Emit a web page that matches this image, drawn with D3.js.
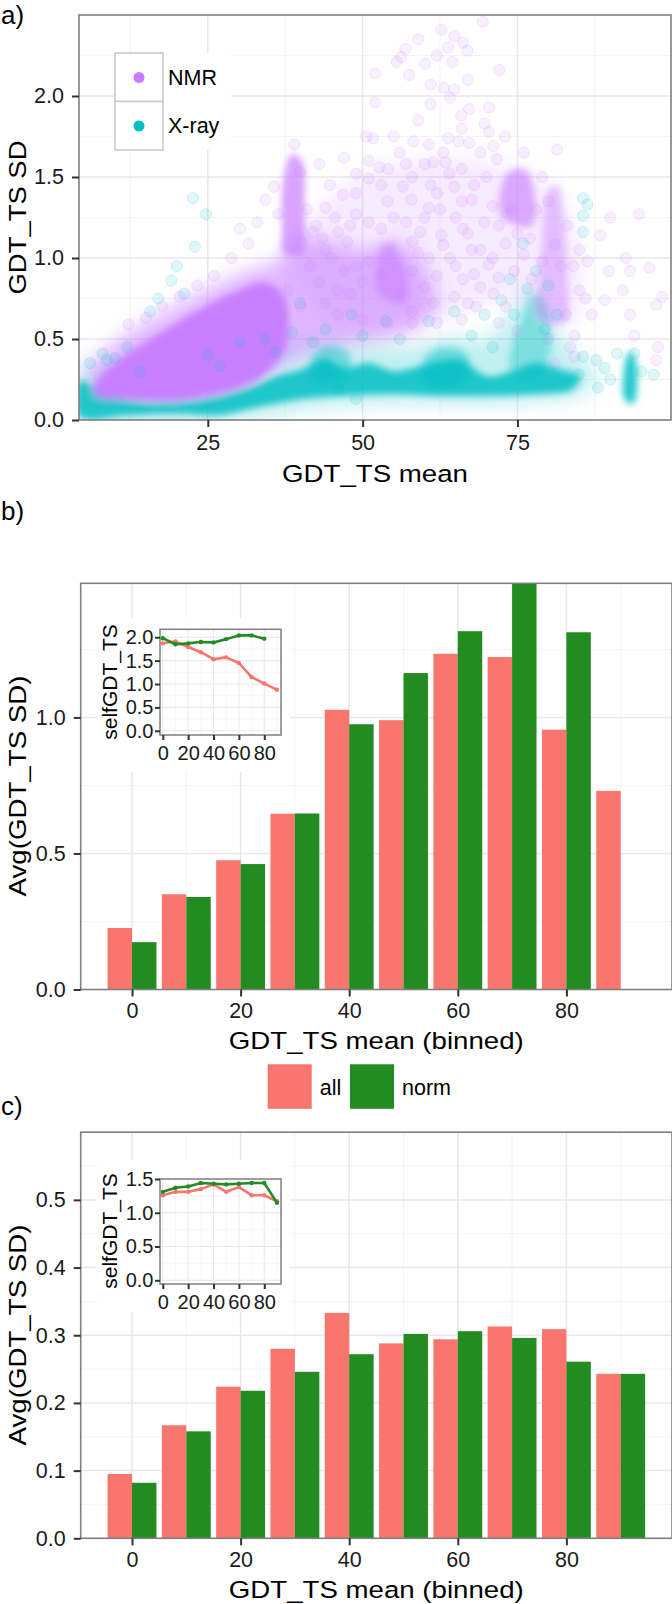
<!DOCTYPE html>
<html><head><meta charset="utf-8">
<script src="https://cdn.jsdelivr.net/npm/d3@7"></script>
<style>body{margin:0;background:#fff}</style>
</head><body><svg id="c" width="672" height="1604" xmlns="http://www.w3.org/2000/svg"></svg>
<script>
// ---------------- DATA ----------------
const seriesNames = ["all", "norm"];
const scatterGroups = ["NMR", "X-ray"];

// panel a: dense regions (outlines, data units)
const xrayCloud = [[4.3,0.0],[30,0.0],[45,0.08],[60,0.1],[75,0.1],[86,0.17],[88,0.3],[84,0.42],[81,0.6],[79,0.78],[76,0.8],[73,0.62],[70,0.5],[64,0.52],[58,0.47],[52,0.5],[46,0.5],[40,0.48],[35,0.42],[30,0.32],[25,0.26],[15,0.24],[8,0.33],[4.3,0.36]];
const xrayCore = [[4.3,0.02],[12,0.03],[20,0.04],[27,0.03],[33,0.08],[40,0.13],[47,0.15],[55,0.16],[62,0.15],[70,0.15],[78,0.16],[84,0.19],[85,0.27],[82,0.31],[78,0.35],[74,0.3],[70,0.27],[66,0.37],[62,0.36],[58,0.32],[55,0.3],[51,0.35],[47,0.32],[44,0.38],[40,0.31],[36,0.27],[33,0.22],[30,0.18],[26,0.14],[20,0.11],[14,0.11],[10,0.14],[7,0.2],[4.3,0.24]];
const xrayPatch45 = [[42,0.25],[47,0.26],[48,0.4],[45,0.46],[42,0.4]];
const xrayPatch63 = [[60,0.22],[66,0.22],[67,0.4],[63,0.45],[60,0.38]];
const xrayStreak78 = [[74,0.3],[79,0.3],[80.5,0.5],[79.5,0.72],[77.5,0.78],[75.5,0.6],[74,0.45]];
const xray93 = [[92.3,0.13],[93.7,0.1],[94.3,0.2],[94.0,0.38],[93.0,0.42],[92.2,0.3]];
const nmrHaze = [[38,1.0],[44,1.35],[52,1.55],[62,1.62],[72,1.58],[80,1.45],[85,1.1],[84,0.6],[75,0.75],[65,0.65],[55,0.55],[45,0.6]];
const nmrCloud = [[6,0.2],[12,0.12],[30,0.18],[37,0.35],[45,0.45],[52,0.5],[58,0.55],[62,0.7],[60,0.95],[56,1.1],[50,1.05],[45,1.1],[40,1.12],[36,0.98],[30,0.9],[22,0.75],[15,0.6],[9,0.45],[6,0.32]];
const nmrCore = [[7,0.15],[12,0.13],[19,0.12],[25,0.15],[30,0.2],[34,0.28],[37,0.4],[38,0.6],[37,0.78],[34,0.85],[30,0.8],[25,0.71],[20,0.6],[15,0.48],[11,0.38],[8,0.28],[6.5,0.2]];
const nmrStreak39 = [[37.3,1.03],[40.3,1.03],[40.6,1.3],[40.2,1.6],[38.5,1.64],[37.1,1.45],[37.0,1.2]];
const nmrStreak55 = [[52.5,0.78],[57,0.72],[57.3,0.85],[56,1.0],[54.5,1.1],[52.8,1.05],[52.2,0.9]];
const nmrStreak75 = [[72.5,1.25],[77.3,1.2],[77.7,1.4],[76.5,1.54],[74,1.54],[72.5,1.45]];
const nmrStreak81 = [[78.5,0.62],[82.8,0.6],[83,0.9],[82.5,1.2],[81.5,1.45],[80,1.42],[79,1.1],[78.3,0.85]];

// panel a: individual sparse points (GDT_TS mean, GDT_TS SD)
const nmrPoints = [[69.4,2.46],[62.7,2.41],[64.8,2.37],[66.2,2.33],[66.9,2.28],[63.8,2.30],[56.9,2.29],[55.5,2.21],[56.2,2.24],[60.1,2.20],[64.5,2.21],[72.1,2.16],[57.5,2.13],[61.0,2.07],[63.1,2.05],[64.8,2.04],[52.0,2.14],[52.0,1.96],[64.1,1.99],[65.9,1.88],[67.2,1.92],[70.4,1.93],[69.7,1.83],[70.4,1.78],[63.8,1.74],[65.5,1.72],[67.2,1.71],[69.0,1.65],[71.1,1.69],[58.2,1.72],[60.7,1.70],[63.4,1.59],[61.4,1.59],[51.7,1.74],[50.6,1.75],[52.7,1.56],[71.7,1.61],[81.4,1.67],[94.6,1.27],[96.3,0.94],[93.2,0.92],[98.4,0.76],[97.4,0.71],[97.7,0.45],[92.5,1.00],[93.2,0.65],[93.9,0.52],[97.4,0.37],[88.4,1.14],[89.8,0.92],[89.1,0.74],[86.3,0.98],[87.0,0.65],[84.2,0.39],[84.2,0.52],
[44.7,1.45],[46.8,1.39],[48.9,1.40],[44.0,1.31],[48.9,1.27],[51.0,1.22],[46.1,1.16],[42.0,1.16],[44.0,1.05],[51.0,1.60],[51.0,1.49],[54.1,1.55],[56.5,1.44],[57.9,1.36],[60.7,1.31],[62.0,1.40],[64.8,1.44],[67.6,1.36],[69.7,1.22],[66.2,1.18],[62.7,1.14],[59.3,1.16],[60.7,1.00],[64.1,1.00],[67.6,1.05],[70.4,0.96],[66.2,0.87],[62.0,0.89],[57.9,0.92],[64.8,0.76],[68.3,0.70],[71.1,0.78],[61.4,0.72],[57.9,0.67],[73.1,1.09],[74.5,0.92],[77.3,0.87],[73.1,0.70],[39.9,1.53],[35.7,1.44],[34.3,1.36],[33.0,1.22],[31.6,1.09],[28.8,1.00],[26.0,0.89],[23.3,0.83],[20.5,0.76],[17.7,0.70],[15.0,0.63],[12.2,0.59],[30.2,1.18],[36.4,1.27],[82.8,0.65],[83.5,0.45],
[42.5,1.2],[43.5,1.12],[45.5,1.25],[47.5,1.1],[49,0.95],[41.5,0.95],[43,0.85],[46,0.8],[50,0.85],[53,0.9],[48,1.2],[55,1.25],[58,1.1],[60,1.25],[62.5,1.3],[65,1.25],[67,1.15],[69,1.05],[71,1.0],[68,0.9],[72,1.2],[74,1.3],[70,1.5],[66,1.55],[58,1.5],[56,1.65],[54,1.35],[61,1.45],[63,1.65],[59,1.85],[61,1.95],[67,2.1],[62,2.25],[59,2.35],[66,1.35],[78,1.3],[79,1.5],[80,1.35],[83,1.2],[84,0.95],[85,0.8],[80,0.5],[81,0.35],[72,0.6],[75,0.55],[66,0.62],[62,0.6],[58,0.6],[54,0.6],[50,0.62],[46,0.65],[40,0.7],[38,0.8],
[45,1.0],[47,0.92],[51,0.98],[53,1.18],[57,1.22],[59,1.03],[63,1.08],[65,0.95],[69,0.82],[72,0.88],[76,1.02],[77,1.12],[79,0.98],[81,1.08],[75,1.15],[71,1.32],[68,1.45],[64,1.52],[60,1.58],[57,1.58],[53,1.45],[49,1.52],[47,1.62],[55,1.75],[66,1.8],[73,1.75],[76,1.65],[44,0.72],[48,0.78],[56,0.78],[60,0.82],[67,0.72],[41,1.3],[39,1.7],[43,1.58],[82,0.95],[85,1.05],[86,0.75],[90,1.25],[92,0.8]];
const xrayPoints = [[22.6,1.37],[22.9,1.07],[24.7,1.27],[21.2,0.78],[19.1,0.86],[15.7,0.67],[8.0,0.41],[8.7,0.37],[85.6,1.37],[85.6,1.26],[85.6,1.16],[86.3,1.33],[75.9,1.09],[78.0,0.92],[76.6,0.81],[73.8,0.87],[72.4,0.74],[80.0,0.83],[81.4,0.65],[85.6,0.39],[87.7,0.37],[89.1,0.32],[91.1,0.41],[93.9,0.41],[84.9,0.28],[64.8,0.67],[60.7,0.61],[53.7,0.61],[48.2,0.65],[44.0,0.56],[38.5,0.54],[34.3,0.50],[30.2,0.48],[39.9,0.72],[69.7,0.65],[74.5,0.65],[79.4,0.56],[67.6,0.52],[46.1,0.19],[48.9,0.13],[27,0.33],[25,0.4],[12,0.45],[10,0.38],[17,0.75],[20,0.95],[14,0.3],[6,0.35],[88,0.2],[90,0.25],[95,0.3],[97,0.28],[71,0.45],[56,0.5],[50,0.52],[42,0.48],[36,0.42]];

const aXTicks = [25, 50, 75];
const aYTicks = [0, 0.5, 1.0, 1.5, 2.0];

// panels b and c: binned averages
const bins = [0, 10, 20, 30, 40, 50, 60, 70, 80, 90];
const bAll  = [0.226, 0.350, 0.475, 0.646, 1.028, 0.990, 1.234, 1.222, 0.955, 0.730];
const bNorm = [0.174, 0.340, 0.461, 0.647, 0.975, 1.163, 1.317, 1.493, 1.313, null];
const cAll  = [0.095, 0.167, 0.224, 0.280, 0.333, 0.288, 0.294, 0.313, 0.309, 0.243];
const cNorm = [0.082, 0.158, 0.218, 0.246, 0.272, 0.302, 0.306, 0.296, 0.261, 0.243];
const binXTicks = [0, 20, 40, 60, 80];
const bYTicks = [0, 0.5, 1.0];
const cYTicks = [0, 0.1, 0.2, 0.3, 0.4, 0.5];

// insets: selfGDT_TS
const insetBins = [0, 10, 20, 30, 40, 50, 60, 70, 80, 90];
const bInsetAll  = [1.87, 1.91, 1.79, 1.68, 1.53, 1.57, 1.45, 1.15, 1.01, 0.88];
const bInsetNorm = [1.98, 1.85, 1.87, 1.90, 1.89, 1.96, 2.04, 2.04, 1.97, null];
const cInsetAll  = [1.26, 1.31, 1.31, 1.35, 1.42, 1.31, 1.38, 1.26, 1.26, 1.17];
const cInsetNorm = [1.31, 1.37, 1.39, 1.44, 1.43, 1.42, 1.43, 1.44, 1.44, 1.15];
const insetXTicks = [0, 20, 40, 60, 80];
const bInsetYTicks = [0, 0.5, 1.0, 1.5, 2.0];
const cInsetYTicks = [0, 0.5, 1.0, 1.5];

// ---------------- DRAWING ----------------
const FONT = '"Liberation Sans", Arial, Helvetica, sans-serif';
const COL = {NMR: "#C77CFF", "X-ray": "#00BFC4", all: "#F8766D", norm: "#228B22"};
const svg = d3.select("#c");
const defs = svg.append("defs");
function blurFilter(id, sd) {
  const f = defs.append("filter").attr("id", id).attr("x", "-30%").attr("y", "-30%").attr("width", "160%").attr("height", "160%");
  f.append("feGaussianBlur").attr("stdDeviation", sd);
}
blurFilter("soft", 3.5);
blurFilter("softer", 9);

function panel(o) {
  const g = svg.append("g");
  const x = d3.scaleLinear().domain(o.xd).range([o.l, o.r]);
  const y = d3.scaleLinear().domain(o.yd).range([o.b, o.t]);
  if (o.bg) g.append("rect").attr("x", o.bg[0]).attr("y", o.bg[1]).attr("width", o.bg[2] - o.bg[0]).attr("height", o.bg[3] - o.bg[1]).attr("fill", "#fff");
  g.append("rect").attr("x", o.l).attr("y", o.t).attr("width", o.r - o.l).attr("height", o.b - o.t).attr("fill", "#fff");
  const grid = g.append("g");
  const mw = o.gw || 1.5;
  const inX = v => x(v) > o.l + 0.5 && x(v) < o.r - 0.5;
  const inY = v => y(v) < o.b - 0.5 && y(v) > o.t + 0.5;
  grid.selectAll(".hm").data(o.yMinor.filter(inY)).join("line").attr("x1", o.l).attr("x2", o.r).attr("y1", d => y(d)).attr("y2", d => y(d)).attr("stroke", "#f3f3f3").attr("stroke-width", mw * 0.6);
  grid.selectAll(".vm").data(o.xMinor.filter(inX)).join("line").attr("y1", o.t).attr("y2", o.b).attr("x1", d => x(d)).attr("x2", d => x(d)).attr("stroke", "#f3f3f3").attr("stroke-width", mw * 0.6);
  grid.selectAll(".hM").data(o.yMajor.filter(inY)).join("line").attr("x1", o.l).attr("x2", o.r).attr("y1", d => y(d)).attr("y2", d => y(d)).attr("stroke", "#e8e8e8").attr("stroke-width", mw);
  grid.selectAll(".vM").data(o.xMajor.filter(inX)).join("line").attr("y1", o.t).attr("y2", o.b).attr("x1", d => x(d)).attr("x2", d => x(d)).attr("stroke", "#e8e8e8").attr("stroke-width", mw);
  const clipId = "clip" + Math.round(o.t);
  defs.append("clipPath").attr("id", clipId).append("rect").attr("x", o.l).attr("y", o.t).attr("width", o.r - o.l).attr("height", o.b - o.t);
  const data = g.append("g").attr("clip-path", `url(#${clipId})`);
  return {g, x, y, data, o};
}
function frame(p, w) {
  const o = p.o;
  p.g.append("rect").attr("x", o.l).attr("y", o.t).attr("width", o.r - o.l).attr("height", o.b - o.t).attr("fill", "none").attr("stroke", "#7f7f7f").attr("stroke-width", w || 1.6);
}
function axes(p, xt, yt, xf, yf, s) {
  const o = p.o;
  const ay = p.g.append("g").attr("transform", `translate(${o.l},0)`)
    .call(d3.axisLeft(p.y).tickValues(yt).tickFormat(yf).tickSize(s.ts).tickPadding(s.yp));
  const ax = p.g.append("g").attr("transform", `translate(0,${o.b})`)
    .call(d3.axisBottom(p.x).tickValues(xt).tickFormat(xf).tickSize(s.ts).tickPadding(s.xp));
  [ax, ay].forEach(a => {
    a.select(".domain").remove();
    a.attr("font-family", FONT).attr("font-size", s.fs);
    a.selectAll("line").attr("stroke", "#333").attr("stroke-width", s.tw);
    a.selectAll("text").attr("fill", "#1a1a1a");
  });
}
function title(txt, x, y, rot, len, fs) {
  const t = svg.append("text").attr("x", x).attr("y", y).attr("text-anchor", "middle").attr("dominant-baseline", "central")
    .attr("font-family", FONT).attr("font-size", fs || 24.5).attr("fill", "#000").text(txt);
  if (rot) t.attr("transform", `rotate(-90,${x},${y})`);
  if (len) t.attr("textLength", len).attr("lengthAdjust", "spacingAndGlyphs");
  return t;
}
function label(txt, x, y) {
  svg.append("text").attr("x", x).attr("y", y).attr("font-family", FONT).attr("font-size", 26).attr("fill", "#000").text(txt);
}
const f1 = d3.format(".1f");
const f0 = d3.format("d");

// ---------- panel a ----------
label("a)", 1, 24);
const pa = panel({l: 79, r: 671, t: 15, b: 420, xd: [4.2, 99.8], yd: [0, 2.5],
  xMajor: [25, 50, 75], xMinor: [12.5, 37.5, 62.5, 87.5], yMajor: [0, 0.5, 1, 1.5, 2, 2.5], yMinor: [0.25, 0.75, 1.25, 1.75, 2.25]});
const poly = d3.line().x(d => pa.x(d[0])).y(d => pa.y(d[1])).curve(d3.curveCatmullRomClosed.alpha(0.5));
const hazeLayers = [[nmrHaze, "NMR", 0.15], [xrayCloud, "X-ray", 0.24], [nmrCloud, "NMR", 0.55]];
const denseLayers = [
  [xrayCore, "X-ray", 0.85], [xrayPatch45, "X-ray", 0.45], [xrayPatch63, "X-ray", 0.45], [xrayStreak78, "X-ray", 0.35], [nmrCore, "NMR", 0.95],
  [nmrStreak39, "NMR", 0.7], [nmrStreak55, "NMR", 0.55], [nmrStreak75, "NMR", 0.6], [nmrStreak81, "NMR", 0.42], [xray93, "X-ray", 0.85]
];
const hz = pa.data.append("g").attr("filter", "url(#softer)");
hazeLayers.forEach(([pts, grp, op]) => hz.append("path").attr("d", poly(pts)).attr("fill", COL[grp]).attr("fill-opacity", op));
const dens = pa.data.append("g").attr("filter", "url(#soft)");
denseLayers.forEach(([pts, grp, op]) => dens.append("path").attr("d", poly(pts)).attr("fill", COL[grp]).attr("fill-opacity", op));
pa.data.append("g").selectAll("circle").data(xrayPoints).join("circle")
  .attr("cx", d => pa.x(d[0])).attr("cy", d => pa.y(d[1])).attr("r", 5.6)
  .attr("fill", COL["X-ray"]).attr("fill-opacity", 0.12).attr("stroke", COL["X-ray"]).attr("stroke-opacity", 0.16);
pa.data.append("g").selectAll("circle").data(nmrPoints).join("circle")
  .attr("cx", d => pa.x(d[0])).attr("cy", d => pa.y(d[1])).attr("r", 5.6)
  .attr("fill", COL.NMR).attr("fill-opacity", 0.12).attr("stroke", COL.NMR).attr("stroke-opacity", 0.16);
// legend
const lg = pa.g.append("g");
lg.append("rect").attr("x", 114).attr("y", 53).attr("width", 117).attr("height", 97).attr("fill", "#fff");
scatterGroups.forEach((nm, i) => {
  const yy = 53 + i * 48.5;
  lg.append("rect").attr("x", 115).attr("y", yy).attr("width", 48).attr("height", 48.5).attr("fill", "#fff").attr("stroke", "#c8c8c8").attr("stroke-width", 1.5);
  lg.append("circle").attr("cx", 139).attr("cy", yy + 24.5).attr("r", 5.5).attr("fill", COL[nm]);
  lg.append("text").attr("x", 168).attr("y", yy + 24.5).attr("dominant-baseline", "central").attr("font-family", FONT).attr("font-size", 21.5).attr("fill", "#000").text(nm);
});
frame(pa);
axes(pa, aXTicks, aYTicks, f0, f1, {ts: 7, yp: 8, xp: 8, fs: 21.5, tw: 2});
title("GDT_TS mean", 375, 473, false, 186);
title("GDT_TS SD", 17.5, 217.5, true, 154);

// ---------- bars helper ----------
function barPanel(p, all, norm) {
  const half = 4.5;
  p.data.append("g").selectAll("rect").data(bins.map((c, i) => ({c, v: all[i]})).filter(d => d.v != null)).join("rect")
    .attr("x", d => p.x(d.c - half)).attr("width", d => p.x(d.c) - p.x(d.c - half))
    .attr("y", d => p.y(d.v)).attr("height", d => p.y(0) - p.y(d.v)).attr("fill", COL.all);
  p.data.append("g").selectAll("rect").data(bins.map((c, i) => ({c, v: norm[i]})).filter(d => d.v != null)).join("rect")
    .attr("x", d => p.x(d.c)).attr("width", d => p.x(d.c + half) - p.x(d.c))
    .attr("y", d => p.y(d.v)).attr("height", d => p.y(0) - p.y(d.v)).attr("fill", COL.norm);
}
function inset(o, allV, normV, yt, yMajor, yMinor) {
  const p = panel(Object.assign({xd: [-2.2, 93.2], xMajor: [0, 20, 40, 60, 80], xMinor: [10, 30, 50, 70, 90], yMajor, yMinor, gw: 1}, o));
  const ln = d3.line().defined(d => d[1] != null).x(d => p.x(d[0])).y(d => p.y(d[1]));
  [[allV, "all"], [normV, "norm"]].forEach(([vals, nm]) => {
    const pts = insetBins.map((b, i) => [b, vals[i]]);
    p.data.append("path").attr("d", ln(pts)).attr("fill", "none").attr("stroke", COL[nm]).attr("stroke-width", 2.6).attr("stroke-linejoin", "round");
    p.data.append("g").selectAll("circle").data(pts.filter(d => d[1] != null)).join("circle")
      .attr("cx", d => p.x(d[0])).attr("cy", d => p.y(d[1])).attr("r", 2.2).attr("fill", COL[nm]);
  });
  frame(p, 1.5);
  axes(p, insetXTicks, yt, f0, f1, {ts: 5, yp: 1.5, xp: 5.5, fs: 20, tw: 2});
  return p;
}

// ---------- panel b ----------
label("b)", 1, 520);
const pb = panel({l: 80.7, r: 672, t: 583.3, b: 989.5, xd: [-9.45, 99.45], yd: [0, 1.493],
  xMajor: [0, 20, 40, 60, 80], xMinor: [10, 30, 50, 70, 90], yMajor: [0, 0.5, 1.0], yMinor: [0.25, 0.75, 1.25]});
barPanel(pb, bAll, bNorm);
frame(pb);
axes(pb, binXTicks, bYTicks, f0, f1, {ts: 7, yp: 8, xp: 6.5, fs: 21.5, tw: 2});
inset({l: 160, r: 281, t: 629.3, b: 735, yd: [-0.09, 2.17], bg: [97, 618, 290, 772]}, bInsetAll, bInsetNorm, bInsetYTicks, [0, 0.5, 1, 1.5, 2], [0.25, 0.75, 1.25, 1.75]);
title("selfGDT_TS", 109, 682, true, null, 21);
title("GDT_TS mean (binned)", 376.3, 1040, false, 295);
title("Avg(GDT_TS SD)", 17.5, 786, true, 221);

// legend for b/c
const legX = [267.7, 350];
seriesNames.forEach((nm, i) => {
  svg.append("rect").attr("x", legX[i]).attr("y", 1064.3).attr("width", 44).attr("height", 44.5).attr("fill", COL[nm]);
  svg.append("text").attr("x", legX[i] + 52).attr("y", 1095).attr("font-family", FONT).attr("font-size", 21.5).attr("fill", "#000").text(nm);
});

// ---------- panel c ----------
label("c)", 1, 1115);
const pc = panel({l: 80.7, r: 672, t: 1132.2, b: 1538.3, xd: [-9.45, 99.45], yd: [0, 0.6],
  xMajor: [0, 20, 40, 60, 80], xMinor: [10, 30, 50, 70, 90], yMajor: [0, 0.1, 0.2, 0.3, 0.4, 0.5, 0.6], yMinor: [0.05, 0.15, 0.25, 0.35, 0.45, 0.55]});
barPanel(pc, cAll, cNorm);
frame(pc);
axes(pc, binXTicks, cYTicks, f0, f1, {ts: 7, yp: 8, xp: 6.5, fs: 21.5, tw: 2});
inset({l: 160, r: 281, t: 1179, b: 1284, yd: [-0.055, 1.5], bg: [97, 1160, 290, 1312]}, cInsetAll, cInsetNorm, cInsetYTicks, [0, 0.5, 1, 1.5], [0.25, 0.75, 1.25]);
title("selfGDT_TS", 109, 1231, true, null, 21);
title("GDT_TS mean (binned)", 376.3, 1589, false, 295);
title("Avg(GDT_TS SD)", 17.5, 1335, true, 221);
</script></body></html>
